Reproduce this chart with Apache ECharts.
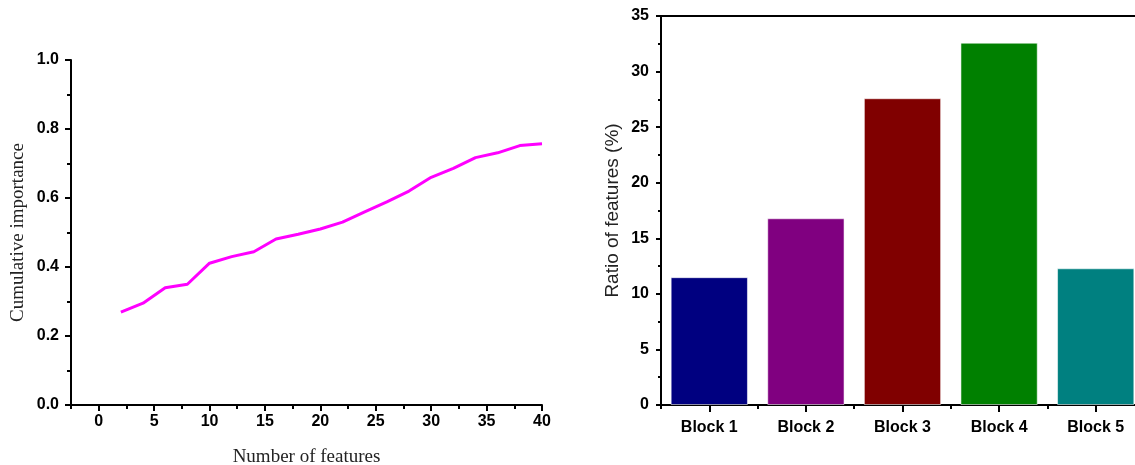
<!DOCTYPE html>
<html>
<head>
<meta charset="utf-8">
<title>Cumulative importance and feature ratio by block</title>
<script src="https://cdn.jsdelivr.net/npm/echarts@6/dist/echarts.min.js"></script>
<style>
  html, body { margin: 0; padding: 0; background: #fff; overflow: hidden; }
  #chart { width: 1135px; height: 465px; }
</style>
</head>
<body>
<div id="chart"></div>
<script>
// Left panel: cumulative importance against the number of selected features
const featureCounts = [2, 4, 6, 8, 10, 12, 14, 16, 18, 20, 22, 24, 26, 28, 30, 32, 34, 36, 38, 40];
const cumulativeImportance = [0.269, 0.295, 0.340, 0.350, 0.411, 0.430, 0.444, 0.481, 0.495, 0.510,
                              0.530, 0.560, 0.589, 0.620, 0.660, 0.686, 0.717, 0.731, 0.752, 0.757];
const featureMajorTicks = [0, 5, 10, 15, 20, 25, 30, 35, 40];
const featureMinorTicks = [-2.5, 2.5, 7.5, 12.5, 17.5, 22.5, 27.5, 32.5, 37.5];

// Right panel: share of features falling in each block
const blocks = ['Block 1', 'Block 2', 'Block 3', 'Block 4', 'Block 5'];
const blockRatios = [11.5, 16.8, 27.6, 32.6, 12.3];
const blockColors = ['#000080', '#800080', '#800000', '#008000', '#008080'];

const sansBold = { fontFamily: 'Liberation Sans, Arial, sans-serif', fontWeight: 'bold', fontSize: 16, color: '#000' };
const axisLineStyle = { color: '#000', width: 2 };

// grids are placed exactly; the bar panel is allowed to run past the right edge
const leftGrid = { left: 71, top: 60, width: 471, bottom: 60, outerBoundsMode: 'none' };
const rightGrid = { left: 661, top: 16, width: 483, bottom: 60, outerBoundsMode: 'none' };

const chart = echarts.init(document.getElementById('chart'), null, { renderer: 'canvas' });

chart.setOption({
  animation: false,
  backgroundColor: '#fff',
  grid: [
    Object.assign({}, leftGrid),   // 0: line chart
    Object.assign({}, leftGrid),   // 1: minor ticks for the feature axis
    Object.assign({}, rightGrid),  // 2: bar chart
    Object.assign({}, rightGrid)   // 3: boundary ticks for the block axis
  ],
  xAxis: [
    {
      gridIndex: 0, type: 'value', min: -2.5, max: 40,
      name: 'Number of features', nameLocation: 'middle', nameGap: 43,
      nameTextStyle: { fontFamily: 'Liberation Serif, Times New Roman, serif', fontSize: 19, color: '#222' },
      axisLine: { show: true, onZero: false, lineStyle: axisLineStyle },
      axisTick: { show: true, length: 6, lineStyle: { color: '#000', width: 2 }, customValues: featureMajorTicks },
      axisLabel: Object.assign({ margin: 9, customValues: featureMajorTicks }, sansBold),
      splitLine: { show: false }
    },
    {
      gridIndex: 1, type: 'value', min: -2.5, max: 40,
      axisLine: { show: false, onZero: false },
      axisTick: { show: true, length: 4, lineStyle: { color: '#000', width: 2 }, customValues: featureMinorTicks },
      axisLabel: { show: false },
      splitLine: { show: false }
    },
    {
      gridIndex: 2, type: 'category', data: blocks,
      axisLine: { show: true, onZero: false, lineStyle: axisLineStyle },
      axisTick: { show: true, alignWithLabel: true, length: 7, lineStyle: { color: '#000', width: 2 } },
      axisLabel: Object.assign({ margin: 15 }, sansBold),
      splitLine: { show: false }
    },
    {
      gridIndex: 2, type: 'category', data: blocks, position: 'top',
      axisLine: { show: true, onZero: false, lineStyle: axisLineStyle },
      axisTick: { show: false },
      axisLabel: { show: false },
      splitLine: { show: false }
    },
    {
      gridIndex: 3, type: 'category', data: blocks,
      axisLine: { show: false, onZero: false },
      axisTick: { show: true, alignWithLabel: false, length: 4, lineStyle: { color: '#000', width: 2 } },
      axisLabel: { show: false },
      splitLine: { show: false }
    }
  ],
  yAxis: [
    {
      gridIndex: 0, type: 'value', min: 0, max: 1, interval: 0.2,
      name: 'Cumulative importance', nameLocation: 'middle', nameGap: 43,
      nameTextStyle: { fontFamily: 'Liberation Serif, Times New Roman, serif', fontSize: 19, color: '#222' },
      axisLine: { show: true, onZero: false, lineStyle: axisLineStyle },
      axisTick: { show: true, length: 6, lineStyle: { color: '#000', width: 2 } },
      minorTick: { show: true, splitNumber: 2, length: 4, lineStyle: { color: '#000', width: 2 } },
      axisLabel: Object.assign({ margin: 12, formatter: v => v.toFixed(1) }, sansBold),
      splitLine: { show: false }
    },
    { gridIndex: 1, type: 'value', min: 0, max: 1, show: false },
    {
      gridIndex: 2, type: 'value', min: 0, max: 35, interval: 5,
      name: 'Ratio of features (%)', nameLocation: 'middle', nameGap: 39,
      nameTextStyle: { fontFamily: 'Liberation Sans, Arial, sans-serif', fontSize: 19, color: '#222' },
      axisLine: { show: true, onZero: false, lineStyle: axisLineStyle },
      axisTick: { show: true, length: 5, lineStyle: { color: '#000', width: 2 } },
      minorTick: { show: true, splitNumber: 2, length: 3, lineStyle: { color: '#000', width: 2 } },
      axisLabel: Object.assign({ margin: 12 }, sansBold),
      splitLine: { show: false }
    },
    { gridIndex: 3, type: 'value', min: 0, max: 35, show: false }
  ],
  series: [
    {
      type: 'line', xAxisIndex: 0, yAxisIndex: 0,
      data: featureCounts.map((n, i) => [n, cumulativeImportance[i]]),
      symbol: 'none',
      lineStyle: { color: '#ff00ff', width: 3 }
    },
    {
      type: 'bar', xAxisIndex: 2, yAxisIndex: 2,
      barWidth: '80%',
      data: blockRatios.map((v, i) => ({
        value: v,
        itemStyle: { color: blockColors[i], borderColor: 'rgba(255,255,255,0.55)', borderWidth: 1 }
      }))
    }
  ]
});
</script>
</body>
</html>
